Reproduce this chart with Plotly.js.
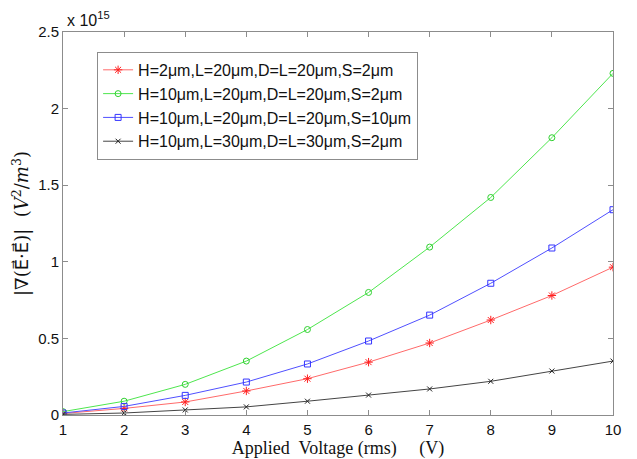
<!DOCTYPE html>
<html>
<head>
<meta charset="utf-8">
<script src="https://cdn.plot.ly/plotly-3.0.1.min.js"></script>
<style>html,body{margin:0;padding:0;background:#fff;}#chart{width:637px;height:459px;}</style>
</head>
<body>
<div id="chart"></div>
<script>
// Applied voltage (V)
const voltage = [1, 2, 3, 4, 5, 6, 7, 8, 9, 10];
// Values in units of 1e15 V^2/m^3
const seriesNames = [
  "H=2\u03bcm,L=20\u03bcm,D=L=20\u03bcm,S=2\u03bcm",
  "H=10\u03bcm,L=20\u03bcm,D=L=20\u03bcm,S=2\u03bcm",
  "H=10\u03bcm,L=20\u03bcm,D=L=20\u03bcm,S=10\u03bcm",
  "H=10\u03bcm,L=30\u03bcm,D=L=30\u03bcm,S=2\u03bcm"
];
const redVals   = [0.010, 0.043, 0.085, 0.157, 0.237, 0.345, 0.470, 0.620, 0.780, 0.965];
const greenVals = [0.022, 0.090, 0.200, 0.352, 0.558, 0.800, 1.096, 1.420, 1.810, 2.230];
const blueVals  = [0.013, 0.056, 0.128, 0.215, 0.333, 0.483, 0.652, 0.860, 1.090, 1.340];
const blackVals = [0.004, 0.013, 0.033, 0.053, 0.090, 0.130, 0.170, 0.220, 0.287, 0.352];
const xTicks = [1, 2, 3, 4, 5, 6, 7, 8, 9, 10];
const yTicks = [0, 0.5, 1, 1.5, 2, 2.5];
const yTickText = ["0", "0.5", "1", "1.5", "2", "2.5"];

const styles = [
  {line: "#ff6a6a", marker: "#ff2020", symbol: "asterisk-open", size: 7},
  {line: "#4ee64e", marker: "#30d030", symbol: "circle-open", size: 6},
  {line: "#5050ff", marker: "#3535ff", symbol: "square-open", size: 6},
  {line: "#444444", marker: "#222222", symbol: "x-thin-open", size: 5}
];
const allVals = [redVals, greenVals, blueVals, blackVals];

const traces = allVals.map((vals, i) => ({
  x: voltage,
  y: vals,
  name: seriesNames[i],
  type: "scatter",
  mode: "lines+markers",
  line: {color: styles[i].line, width: 1},
  marker: {symbol: styles[i].symbol, size: styles[i].size, color: styles[i].marker,
           line: {color: styles[i].marker, width: 1}}
}));

const axisCommon = {
  showgrid: false,
  zeroline: false,
  showline: true,
  linecolor: "#8c8c8c",
  linewidth: 1,
  mirror: "ticks",
  ticks: "inside",
  ticklen: 5,
  tickcolor: "#8c8c8c",
  tickfont: {family: "Liberation Sans, Arial, sans-serif", size: 15, color: "#111"}
};

const vecE = "<span style=\"font-family:'DejaVu Sans'\">E\u20d7</span>";

const layout = {
  width: 637,
  height: 459,
  margin: {l: 63, r: 24, t: 32, b: 44},
  paper_bgcolor: "#ffffff",
  plot_bgcolor: "#ffffff",
  showlegend: true,
  legend: {
    x: 0.062, y: 0.948, xanchor: "left", yanchor: "top",
    bgcolor: "#ffffff",
    bordercolor: "#8c8c8c", borderwidth: 1,
    font: {family: "Liberation Sans, Arial, sans-serif", size: 16, color: "#111"},
    tracegroupgap: 0
  },
  xaxis: Object.assign({}, axisCommon, {
    range: [1, 10],
    tickvals: xTicks,
    ticktext: xTicks.map(String),
    ticklabelstandoff: 1,
    title: {text: "Applied  Voltage (rms)     (V)", standoff: 0,
            font: {family: "Liberation Serif, Times New Roman, serif", size: 18, color: "#111"}}
  }),
  yaxis: Object.assign({}, axisCommon, {
    range: [0, 2.5],
    tickvals: yTicks,
    ticktext: yTickText,
    title: {text: "|\u2207(" + vecE + "\u00b7" + vecE + ")|  (<i>V</i><sup>2</sup>/<i>m</i><sup>3</sup>)", standoff: 4,
            font: {family: "DejaVu Serif, serif", size: 18, color: "#111"}}
  }),
  annotations: [{
    xref: "paper", yref: "paper", x: 0.0, y: 1.0, xanchor: "left", yanchor: "bottom",
    yshift: 1, xshift: 2,
    text: "x 10<sup>15</sup>", showarrow: false,
    font: {family: "Liberation Sans, Arial, sans-serif", size: 16, color: "#111"}
  }]
};

Plotly.newPlot("chart", traces, layout, {displayModeBar: false, staticPlot: true});
</script>
</body>
</html>
